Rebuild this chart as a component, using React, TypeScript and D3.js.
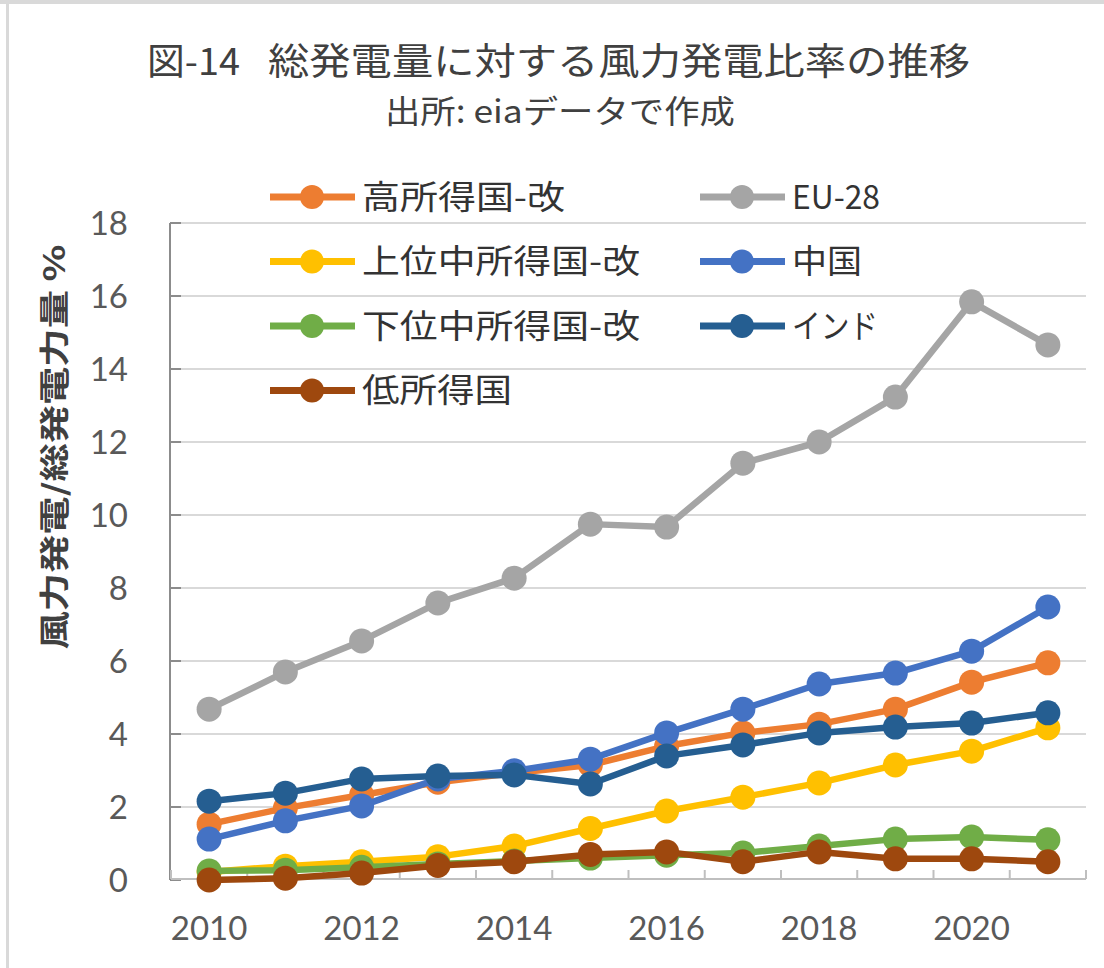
import React from "react";
import * as d3 from "d3";

const years: string[] = ["2010","2011","2012","2013","2014","2015","2016","2017","2018","2019","2020","2021"];
const xTickLabels: string[] = ["2010","2012","2014","2016","2018","2020"];
const yTicks: number[] = [0,2,4,6,8,10,12,14,16,18];

const seriesNames: string[] = ["高所得国-改","EU-28","上位中所得国-改","中国","下位中所得国-改","インド","低所得国"];
const highIncome: number[] = [1.53,1.97,2.33,2.68,2.93,3.15,3.67,4.03,4.27,4.68,5.42,5.95];
const eu28: number[] = [4.68,5.70,6.55,7.59,8.27,9.75,9.67,11.42,12.0,13.23,15.84,14.66];
const upperMiddle: number[] = [0.22,0.38,0.50,0.64,0.93,1.41,1.89,2.27,2.66,3.15,3.53,4.17];
const china: number[] = [1.12,1.62,2.03,2.77,2.99,3.31,4.03,4.68,5.37,5.67,6.27,7.48];
const lowerMiddle: number[] = [0.25,0.27,0.35,0.44,0.52,0.60,0.68,0.74,0.93,1.12,1.18,1.10];
const india: number[] = [2.16,2.38,2.77,2.85,2.88,2.63,3.40,3.70,4.03,4.19,4.30,4.58];
const lowIncome: number[] = [0.0,0.05,0.19,0.40,0.50,0.70,0.77,0.50,0.77,0.58,0.58,0.50];

const seriesValues: number[][] = [highIncome, eu28, upperMiddle, china, lowerMiddle, india, lowIncome];
const seriesColors: string[] = ["#ED7D31","#A5A5A5","#FFC000","#4472C4","#70AD47","#255E91","#9E480E"];
const legendTextWidths: number[] = [203, 88, 278, 70, 278, 86, 150];

const W = 1104, H = 968;
const plotLeft = 171, plotRight = 1086, plotTop = 223, plotBottom = 880;

export default function App() {
  const x = d3.scaleBand<string>().domain(years).range([plotLeft, plotRight]).padding(0);
  const y = d3.scaleLinear().domain([0, 18]).range([plotBottom, plotTop]);
  const cx = (yr: string) => (x(yr) as number) + x.bandwidth() / 2;
  const line = d3.line<number>().x((_, i) => cx(years[i])).y((v) => y(v));
  const numFont = "Lato, 'Open Sans', sans-serif";
  const cjkFont = "'Noto Sans CJK JP', sans-serif";

  return (
    <svg width={W} height={H} style={{ position: "absolute", left: 0, top: 0, background: "#fff" }}>
      <rect x={0} y={0} width={W} height={H} fill="#fff" />
      {/* frame */}
      <rect x={0} y={0} width={W} height={4} fill="#d9d9d9" />
      <rect x={6} y={0} width={3} height={H} fill="#d9d9d9" />

      {/* titles */}
      <text x={147} y={75} fontFamily={cjkFont} fontSize={37} fill="#404040"
        textLength={93} lengthAdjust="spacingAndGlyphs">図-14</text>
      <text x={268} y={75} fontFamily={cjkFont} fontSize={37} fill="#404040"
        textLength={702} lengthAdjust="spacingAndGlyphs">総発電量に対する風力発電比率の推移</text>
      <text x={560} y={123} textAnchor="middle" fontFamily={cjkFont} fontSize={32} fill="#404040"
        textLength={350} lengthAdjust="spacingAndGlyphs">出所: eiaデータで作成</text>

      {/* gridlines */}
      {yTicks.filter((t) => t > 0).map((t) => (
        <line key={"g" + t} x1={plotLeft} x2={plotRight} y1={y(t)} y2={y(t)} stroke="#d9d9d9" strokeWidth={2} />
      ))}

      {/* y axis */}
      <line x1={plotLeft - 1} x2={plotLeft - 1} y1={plotTop} y2={plotBottom} stroke="#8c8c8c" strokeWidth={2} />
      {yTicks.map((t) => (
        <line key={"yt" + t} x1={plotLeft - 1} x2={plotLeft + 10} y1={y(t)} y2={y(t)} stroke="#8c8c8c" strokeWidth={2} />
      ))}
      {yTicks.map((t) => (
        <text key={"yl" + t} x={128} y={y(t)} dy="0.36em" textAnchor="end" fontFamily={numFont}
          fontSize={33} fill="#595959">{t}</text>
      ))}

      {/* x axis */}
      <line x1={plotLeft} x2={plotRight} y1={plotBottom - 1} y2={plotBottom - 1} stroke="#bfbfbf" strokeWidth={2} />
      {years.map((yr) => (
        <line key={"xt" + yr} x1={x(yr) as number} x2={x(yr) as number}
          y1={plotBottom - 1} y2={plotBottom - 10} stroke="#bfbfbf" strokeWidth={2} />
      ))}
      <line x1={plotRight} x2={plotRight} y1={plotBottom - 1} y2={plotBottom - 10} stroke="#bfbfbf" strokeWidth={2} />
      {xTickLabels.map((yr) => (
        <text key={"xl" + yr} x={cx(yr)} y={928} dy="0.36em" textAnchor="middle" fontFamily={numFont}
          fontSize={33} fill="#595959">{yr}</text>
      ))}

      {/* y axis title */}
      <text transform={`translate(${54},${447}) rotate(-90)`} textAnchor="middle" dy="0.36em"
        fontFamily={cjkFont} fontSize={30} fontWeight="bold" fill="#404040"
        textLength={405} lengthAdjust="spacingAndGlyphs">風力発電/総発電力量 %</text>

      {/* series */}
      {seriesValues.map((vals, s) => (
        <g key={"s" + s}>
          <path d={line(vals) || ""} fill="none" stroke={seriesColors[s]} strokeWidth={6.5}
            strokeLinejoin="round" strokeLinecap="round" />
          {vals.map((v, i) => (
            <circle key={i} cx={cx(years[i])} cy={y(v)} r={12.5} fill={seriesColors[s]} />
          ))}
        </g>
      ))}

      {/* legend */}
      {seriesNames.map((name, i) => {
        const col = i % 2;
        const row = Math.floor(i / 2);
        const lx = col === 0 ? 270 : 700;
        const ly = 197 + row * 64.5;
        return (
          <g key={"lg" + i}>
            <line x1={lx} x2={lx + 85} y1={ly} y2={ly} stroke={seriesColors[i]} strokeWidth={7} />
            <circle cx={lx + 42} cy={ly} r={12} fill={seriesColors[i]} />
            <text x={lx + 92} y={ly} dy="0.36em" fontFamily={cjkFont} fontSize={33} fill="#333333"
              textLength={legendTextWidths[i]} lengthAdjust="spacingAndGlyphs">{name}</text>
          </g>
        );
      })}
    </svg>
  );
}
